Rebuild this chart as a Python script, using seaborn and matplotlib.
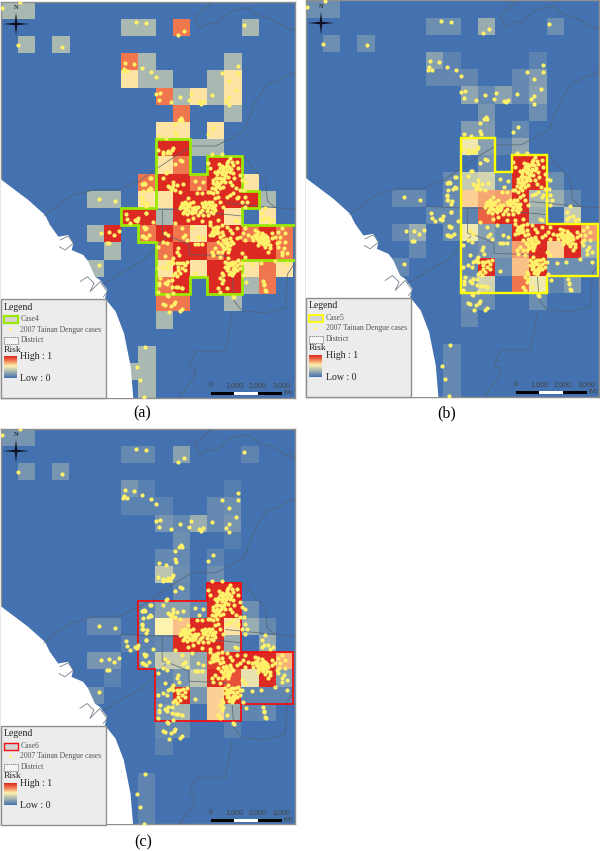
import numpy as np
import pandas as pd
import seaborn as sns
import matplotlib
matplotlib.use("Agg")
import matplotlib.pyplot as plt
from matplotlib.colors import LinearSegmentedColormap
from matplotlib.patches import Rectangle

sns.set_theme(style="white")
plt.rcParams["font.family"] = ["Liberation Serif", "DejaVu Serif"]

N_ROWS, N_COLS = 24, 18
CELL = 17.2

risk_a = {
    0: {0: .3, 1: .3}, 1: {7: .3, 8: .3, 10: .8, 14: .3}, 2: {1: .3, 3: .3},
    3: {7: .8, 8: .3, 13: .3}, 4: {7: .58, 8: .3, 9: .3, 12: .3, 13: .58},
    5: {9: .8, 10: .3, 11: .58, 12: .3, 13: .58}, 6: {10: .8, 13: .3},
    7: {9: .58, 10: .58, 12: .58}, 8: {9: 1, 10: 1, 11: .3, 12: .3},
    9: {9: .58, 10: .8, 12: 1, 13: 1},
    10: {8: .8, 9: 1, 10: 1, 11: .8, 12: 1, 13: 1, 14: .58},
    11: {5: .3, 6: .3, 8: .58, 9: .58, 10: 1, 11: 1, 12: 1, 13: 1, 14: 1, 15: .3},
    12: {7: 1, 8: 1, 9: .3, 10: 1, 11: 1, 12: 1, 13: .58, 15: .58},
    13: {5: .3, 6: 1, 8: .8, 9: 1, 10: .8, 11: .58, 12: 1, 13: 1, 14: .8, 15: 1, 16: .8},
    14: {6: .3, 9: .8, 10: 1, 11: 1, 12: .8, 13: 1, 14: 1, 15: 1, 16: .8},
    15: {5: .3, 9: .58, 10: 1, 11: .58, 12: 1, 13: 1, 14: .58, 15: .8, 16: .58},
    16: {9: .8, 10: 1, 12: 1, 13: 1, 14: .3, 15: .8},
    17: {9: .8, 10: .8, 13: .3}, 18: {9: .3},
    20: {8: .3}, 21: {7: .3, 8: .3}, 22: {8: .3}, 23: {8: .3},
}
risk_b = {
    0: {0: .12, 1: .12}, 1: {7: .12, 8: .12, 10: .25, 14: .12}, 2: {1: .12, 3: .12},
    3: {7: .2, 8: .07, 13: .07}, 4: {7: .09, 8: .09, 9: .09, 12: .1, 13: .18},
    5: {9: .22, 10: .1, 11: .2, 12: .1, 13: .2}, 6: {10: .15, 13: .12},
    7: {9: .18, 10: .18, 12: .1}, 8: {9: .5, 10: .2, 11: .07, 12: .22},
    9: {10: .15, 12: 1, 13: 1},
    10: {8: .1, 9: .38, 10: .42, 11: .12, 12: 1, 13: 1, 14: .12},
    11: {5: .1, 6: .1, 8: .1, 9: .62, 10: .7, 11: .72, 12: 1, 13: .3, 14: .25, 15: .1},
    12: {7: .1, 8: .1, 9: .08, 10: .85, 11: 1, 12: 1, 13: .25, 15: .38},
    13: {5: .1, 6: .25, 8: .12, 9: .5, 10: .2, 11: .12, 12: 1, 13: 1, 14: 1, 15: 1, 16: .72},
    14: {6: .1, 9: .1, 10: .15, 11: .18, 12: .72, 13: 1, 14: .62, 15: 1, 16: .25},
    15: {5: .1, 9: .1, 10: 1, 11: .12, 12: .65, 13: 1, 14: .12, 15: .12, 16: .12},
    16: {9: .2, 10: .42, 12: .8, 13: .5, 14: .08, 15: .18},
    17: {9: .12, 10: .12, 13: .12}, 18: {9: .1},
    20: {8: .1}, 21: {8: .1}, 22: {8: .1}, 23: {8: .1},
}
risk_c = {
    0: {0: .15, 1: .15}, 1: {7: .1, 8: .1, 10: .2, 14: .08}, 2: {1: .15, 3: .15},
    3: {7: .15, 8: .06, 13: .05}, 4: {7: .07, 8: .07, 9: .07, 12: .1, 13: .12},
    5: {9: .15, 10: .1, 11: .25, 12: .1, 13: .15}, 6: {10: .12, 13: .05},
    7: {9: .1, 10: .1, 12: .07}, 8: {9: .35, 10: .12, 12: .12},
    9: {10: .1, 12: 1, 13: 1},
    10: {8: .08, 9: .2, 10: .2, 11: .1, 12: 1, 13: 1, 14: .12},
    11: {5: .1, 6: .1, 8: .1, 9: .55, 10: .65, 11: 1, 12: 1, 13: .58, 14: .25, 15: .1},
    12: {7: .07, 8: .07, 9: .1, 10: 1, 11: 1, 12: 1, 13: .25, 15: .25},
    13: {5: .15, 6: .15, 8: .1, 9: .38, 10: .38, 11: .22, 12: .95, 13: 1, 14: 1, 15: 1, 16: .68},
    14: {6: .07, 9: .08, 10: .15, 11: .35, 12: 1, 13: .9, 14: .48, 15: 1, 16: .2},
    15: {5: .12, 9: .1, 10: 1, 11: .15, 12: .62, 13: 1, 14: .08, 15: .08, 16: .08},
    16: {9: .15, 10: .28, 12: .62, 13: .25, 14: .08, 15: .1},
    17: {9: .1, 10: .1, 13: .07}, 18: {9: .07},
    20: {8: .08}, 21: {8: .08}, 22: {8: .08}, 23: {8: .08},
}

case4_cells = [(9,8),(11,8),(11,10),(12,10),(12,9),(14,9),(14,11),(15,11),(15,12),(14,12),(14,13),
               (17.2,13),(17.2,15),(14,15),(14,17),(12,17),(12,16),(11,16),(11,17),(9,17),(9,14),
               (8,14),(8,13),(7,13),(7,12),(9,12)]
case5_cells = [(9,8),(11,8),(11,10),(12,10),(12,9),(14,9),(14,13),(17,13),(17,16),(14,16),(14,17),(9,17)]
case6_cells = [(8,10),(12,10),(12,9),(14,9),(14,13),(17,13),(17,16),(14,16),(14,17),(9,17),(9,14),(8,14)]

# Dengue case positions, in thirds of a pixel on the map grid
cases_north = [(8,20),(62,2),(57,131),(188,136),(411,63),(441,66),(556,88),(537,100),(734,72),(379,184),
    (404,187),(376,202),(373,210),(383,209),(429,201),(456,211),(471,228),(717,195),(669,216),(717,215),
    (689,238),(710,267),(471,277),(484,274),(480,295),(517,301),(544,286),(576,278),(571,296),(600,303),
    (606,307),(613,299),(640,281),(680,298),(691,288),(690,312),(546,351),(540,356),(550,356),(529,369),
    (528,392),(530,402),(641,380),(626,397),(479,403),(502,409)]
cases_west = [(300,293),(348,300),(382,340),(385,355),(418,350),(440,337),(415,360),(393,365),(305,395),
    (330,393),(345,402),(360,390),(323,425),(330,425),(300,492),(435,378),(437,383),(430,405),(440,410),
    (437,250),(455,232),(430,250),(432,270),(430,290),(430,302),(445,305),(455,265),(500,215)]
cases_south = [(480,5),(505,8),(530,18),(550,20),(508,45),(492,70),(498,72),(515,75),(524,70),(527,63),
    (510,92),(543,90),(548,83),(704,48),(800,30),(794,10),(438,197),(414,257),(424,298),(436,349)]
cases_mid = [(85,5),(100,10),(110,15),(120,15),(125,5),(100,18),(130,0),(115,8),(135,47),(150,36),(155,38),
    (112,72),(100,88),(60,90),(42,105),(38,108),(60,120),(55,125),(36,145),(38,160),(48,172),(48,195),
    (20,215),(70,222),(194,97),(218,101),(208,120),(245,18),(275,18),(130,100),(128,110),(115,112),(125,120),
    (140,110),(160,108),(122,125),(135,125),(118,115),(150,130),(300,30),(295,38),(305,42),(290,45),(310,50),
    (285,55),(275,52),(298,55),(270,60),(265,68),(280,68),(290,65),(300,70),(255,72),(262,78),(275,78),(285,80),
    (295,85),(258,90),(270,90),(280,92),(250,95),(262,100),(272,102),(285,100),(255,108),(265,112),(245,118),
    (255,122),(270,120),(280,115),(300,100),(305,110),(325,60),(330,80),(320,40),(335,95),(318,120),(330,125),
    (240,130),(250,135),(262,130),(310,75),(312,90),(235,45),(240,60),(345,100),(342,125),(345,145),(350,160),
    (345,175),(335,160),(325,145),(310,135),(300,140),(290,145),(320,150),(155,165),(165,160),(175,150),(160,175),
    (170,170),(180,165),(190,160),(150,180),(165,185),(175,185),(185,180),(195,175),(160,195),(172,198),(185,195),
    (195,190),(205,175),(215,165),(225,160),(235,165),(245,160),(255,170),(225,175),(235,180),(245,180),(255,185),
    (215,185),(205,200),(190,210),(175,215),(220,200),(235,200),(250,195),(200,135),(215,135),(235,130),(255,150),
    (265,145),(270,160),(280,175),(240,220),(215,218),(265,215),(405,178),(402,210),(415,208),(395,215),(420,220),
    (428,215),(395,195),(15,215),(315,215),(320,218),
    (268,48),(280,60),(272,72),(262,88),(292,50),(302,62),(268,108),(276,96),(258,116),(250,104),(288,72),(282,88),
    (158,170),(168,178),(178,172),(152,172),(162,190),(180,190),(190,185),(168,165),(228,168),(240,170),(248,172),
    (218,172),(230,188),(242,190),(210,192),(198,182),(238,160),(252,178)]
cases_core = [(48,14),(38,38),(42,42),(57,35),(105,28),(115,35),(100,55),(110,60),(85,70),(135,0),(205,40),
    (195,62),(205,62),(215,62),(220,45),(185,10),(155,15),(165,35),(160,42),(170,50),(85,135),(105,98),(100,130),
    (110,135),(115,120),(125,112),(130,105),(130,120),(120,118),(140,85),(148,95),(145,75),(140,120),(150,120),
    (160,118),(165,125),(145,130),(155,135),(165,140),(145,140),(135,150),(150,150),(140,158),(130,155),(170,115),
    (195,148),(90,165),(88,185),(105,178),(115,172),(125,170),(125,190),(145,192),(155,195),(85,205),(110,215),
    (130,210),(240,5),(250,15),(260,20),(245,25),(255,30),(265,30),(275,25),(240,35),(270,40),(280,50),(290,55),
    (300,45),(310,60),(285,60),(300,65),(265,55),(280,70),(290,75),(295,85),(275,85),(265,85),(255,75),(245,85),
    (250,95),(270,100),(280,35),(305,30),(320,15),(330,40),(320,45),(340,30),(345,50),(300,20),(290,10),(275,5),
    (265,10),(305,115),(300,125),(295,135),(300,145),(310,150),(320,140),(330,135),(290,120),(285,115),(315,115),
    (330,120),(325,110),(335,120),(290,140),(305,155),(315,135),(295,105),(280,155),(270,165),(275,180),(265,195),
    (270,205),(290,195),(310,220),(275,150),(280,170),(385,25),(395,28),(405,35),(375,35),(390,38),(400,42),(410,42),
    (380,45),(365,40),(370,50),(385,50),(395,52),(405,55),(415,52),(425,45),(395,60),(410,62),(420,65),(375,20),
    (425,30),(435,40),(440,60),(405,72),(420,75),(415,85),(385,65),(448,55),(445,70),(455,85),(462,75),(470,90),
    (455,95),(450,40),(445,25),(455,15),(465,30),(465,55),(365,122),(392,120),(400,172),(402,185),(405,200),
    (470,120),(435,112),(340,155),(348,175),(335,90),(345,100),(345,15),(355,35),
    (252,22),(262,24),(258,12),(248,34),(288,48),(295,62),(304,54),(292,68),(282,78),(298,76),(272,62),
    (382,32),(392,46),(402,48),(412,48),(388,56),(400,62),(378,42),(398,34),(300,118),(310,125),(320,125),
    (308,138),(298,152),(312,145),(286,130),(294,126)]

def shift(pts, dx, dy):
    return [(x + dx, y + dy) for x, y in pts]

all_cases = (shift(cases_north, -5, -1) + shift(cases_west, -5, 298) + shift(cases_south, -5, 838)
             + shift(cases_mid, 388, 440) + shift(cases_core, 388, 664.5))
cases = pd.DataFrame(all_cases, columns=["x", "y"]) / (3 * CELL)

coast = [(-10,525),(83,595),(133,640),(148,670),(173,705),(203,700),(218,725),(213,745),(248,760),(263,780),
         (283,825),(298,835),(320,865),(313,890),(345,930),(370,995),(390,1095),(402,1240),(-10,1240)]
districts = [
    [(633,3),(583,45),(598,80),(623,63),(648,67),(688,30),(743,17),(768,40),(818,55),(858,80),(885,85)],
    [(885,210),(848,227),(798,250),(765,298),(730,388),(695,408),(645,433),(575,433),(525,463),(465,503),
     (415,538),(355,563),(285,563),(210,583),(130,643)],
    [(730,463),(765,508),(795,538),(800,598),(825,618),(885,623)],
    [(675,603),(825,618)],
    [(360,618),(475,623),(525,623),(675,638),(725,643)],
    [(485,628),(485,698),(505,703),(565,728),(565,758),(675,763),(690,778)],
    [(305,848),(425,778),(495,708)],
    [(880,788),(860,818),(855,898),(855,918),(795,933),(785,933),(725,928),(700,898),(695,828)],
    [(695,933),(675,1048),(585,1048),(565,1098),(585,1103),(580,1128),(535,1188)],
    [(178,715),(203,703),(218,725),(193,745),(176,735)],
    [(238,840),(260,825),(280,845),(268,870),(298,840),(320,870),(308,885)],
]

panels = [
    dict(risk=risk_a, outline=case4_cells, color="#9be800", lw=2.0, name="Case4", caption="(a)",
         box=(0.7, 1.7, 295, 398), off=(0, 0), cap=(142.5, 413)),
    dict(risk=risk_b, outline=case5_cells, color="#ffff00", lw=1.7, name="Case5", caption="(b)",
         box=(305.8, 0.5, 599, 397), off=(305, -1), cap=(447, 413)),
    dict(risk=risk_c, outline=case6_cells, color="#f01010", lw=1.3, name="Case6", caption="(c)",
         box=(0.5, 428.5, 295, 824), off=(0, 427), cap=(143, 842)),
]

cmap = LinearSegmentedColormap.from_list(
    "risk", [(0, "#4472b0"), (.55, "#fff3b0"), (.8, "#f0764e"), (1, "#dc2a22")])

W, H = 600, 851
fig = plt.figure(figsize=(W / 100, H / 100), dpi=100, facecolor="white")

for p in panels:
    L, T, R, B = p["box"]
    ax = fig.add_axes([L / W, 1 - B / H, (R - L) / W, (B - T) / H])
    grid = np.zeros((N_ROWS, N_COLS))
    for r, row in p["risk"].items():
        for c, v in row.items():
            grid[r, c] = v
    sns.heatmap(pd.DataFrame(grid), ax=ax, cmap=cmap, vmin=0, vmax=1, cbar=False,
                xticklabels=False, yticklabels=False, linewidths=0)
    cx, cy = zip(*coast)
    ax.fill(np.array(cx) / (3 * CELL), np.array(cy) / (3 * CELL), color="white", zorder=3, lw=0)
    for d in districts:
        dx, dy = zip(*d)
        ax.plot(np.array(dx) / (3 * CELL), np.array(dy) / (3 * CELL), color="#55606e", lw=0.6, alpha=0.8, zorder=4)
    ox, oy = zip(*p["outline"])
    ax.fill(ox, oy, facecolor="none", edgecolor=p["color"], lw=p["lw"], zorder=5, joinstyle="miter")
    sns.scatterplot(data=cases, x="x", y="y", ax=ax, color="#fff26a", s=9, linewidth=0, zorder=6, legend=False)
    ax.set_xlim(0, (R - L) / CELL)
    ax.set_ylim((B - T) / CELL, 0)
    ax.set_xlabel("")
    ax.set_ylabel("")
    ax.set_xticks([])
    ax.set_yticks([])
    for s in ax.spines.values():
        s.set_visible(True)
        s.set_color("#8f8f8f")
        s.set_linewidth(1.0)

ov = fig.add_axes([0, 0, 1, 1], zorder=20)
ov.set_xlim(0, W)
ov.set_ylim(H, 0)
ov.axis("off")
ramp = np.linspace(1, 0, 64).reshape(-1, 1)
SANS = ["Liberation Sans", "DejaVu Sans"]

for p in panels:
    dx, dy = p["off"]
    # Legend block
    ov.add_patch(Rectangle((1 + dx, 299 + dy), 105, 99, fc="#ececec", ec="#8f8f8f", lw=1.0, zorder=1))
    ov.text(3.5 + dx, 307 + dy, "Legend", fontsize=7.0, va="center", color="#222222", zorder=2)
    ov.add_patch(Rectangle((3.5 + dx, 315.5 + dy), 14, 7.5, fc="#d4d4d4", ec=p["color"], lw=p["lw"] * 0.8, zorder=2))
    ov.text(20.5 + dx, 319 + dy, p["name"], fontsize=5.6, va="center", color="#555555", zorder=2)
    ov.scatter([10 + dx], [329 + dy], s=4, color="#fff26a", lw=0, zorder=2)
    ov.text(20.5 + dx, 329.5 + dy, "2007 Tainan Dengue cases", fontsize=5.5, va="center", color="#555555", zorder=2)
    ov.add_patch(Rectangle((3.5 + dx, 337 + dy), 14.5, 6.5, fc="#f4f4f4", ec="#666666", lw=0.5, ls=(0, (2, 1)), zorder=2))
    ov.text(20.5 + dx, 340 + dy, "District", fontsize=5.6, va="center", color="#555555", zorder=2)
    ov.text(3.5 + dx, 349.5 + dy, "Risk", fontsize=6.8, va="center", color="#222222", zorder=2)
    ov.imshow(ramp, cmap=cmap, vmin=0, vmax=1, aspect="auto", zorder=2,
              extent=(4 + dx, 17 + dx, 378 + dy, 356 + dy))
    ov.text(20.5 + dx, 356.5 + dy, "High : 1", fontsize=7, va="center", color="#222222", zorder=2)
    ov.text(20.5 + dx, 378.5 + dy, "Low : 0", fontsize=7, va="center", color="#222222", zorder=2)
    # Scale bar
    for i, fc in enumerate(["black", "white", "black"]):
        ov.add_patch(Rectangle((210.5 + dx + i * 23.7, 391.5 + dy), 23.7, 3.5, fc=fc, ec="none", zorder=2))
    for i, lab in enumerate(["0", "1,000", "2,000", "3,000"]):
        ov.text(210.5 + dx + i * 23.7, 385.5 + dy, lab, fontsize=5.2, family=SANS, ha="center", va="center",
                color="#444444", zorder=2)
    ov.text(288 + dx, 392.5 + dy, "(M)", fontsize=4.6, family=SANS, ha="center", va="center", color="#444444", zorder=2)
    # North arrow
    cx, cy = 16 + dx, 24 + dy
    star = [(0, -11.5), (1.2, -1.2), (13, 0), (1.2, 1.2), (0, 12), (-1.2, 1.2), (-13, 0), (-1.2, -1.2)]
    ov.fill([cx + a for a, b in star], [cy + b for a, b in star], color="#0c1020", lw=0, zorder=2)
    ov.text(cx, 7.5 + dy, "N", fontsize=4.6, ha="center", va="center", color="#111111", zorder=2)
    # Caption
    ov.text(p["cap"][0], p["cap"][1], p["caption"], fontsize=11.5, ha="center", va="center", color="black", zorder=2)

ov.set_xlim(0, W)
ov.set_ylim(H, 0)
fig.savefig("out.png", dpi=100, facecolor="white")
